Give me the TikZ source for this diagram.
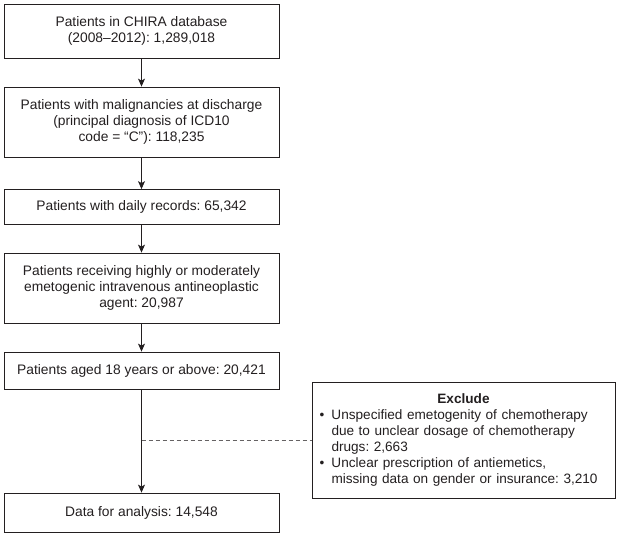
\documentclass[tikz,border=0pt]{standalone}
\usepackage{fontspec}
\setmainfont{Liberation Sans}
\usetikzlibrary{arrows.meta}
\definecolor{ink}{RGB}{35,31,32}
\frenchspacing
\begin{document}
\frenchspacing
\begin{tikzpicture}[x=1pt,y=-1pt,
  flowbox/.style={draw=ink, line width=0.8pt, minimum width=275pt, text=ink, align=center,
    font=\fontsize{13.8}{16}\selectfont\frenchspacing, inner sep=0pt},
  exbox/.style={draw=ink, line width=0.8pt, minimum width=303pt, minimum height=116pt, text=ink,
    text width=288pt, font=\fontsize{13.6}{16}\selectfont\frenchspacing, inner sep=0pt},
  arr/.style={draw=ink, line width=0.8pt, -{Stealth[length=8pt,width=7pt,inset=2pt]}},
  dashline/.style={draw=ink!70, line width=0.7pt, dash pattern=on 4pt off 3pt}]
\useasboundingbox (0,0) rectangle (618,536);
\node[flowbox, minimum height=54pt] (b1) at (141.5,31) {Patients in CHIRA database\\(2008–2012): 1,289,018};
\node[flowbox, minimum height=70pt] (b2) at (141.5,122) {Patients with malignancies at discharge\\(principal diagnosis of ICD10\\code = “C”): 118,235};
\node[flowbox, minimum height=35pt] (b3) at (141.5,207) {Patients with daily records: 65,342};
\node[flowbox, minimum height=70pt] (b4) at (141.5,288) {Patients receiving highly or moderately\\emetogenic intravenous antineoplastic\\agent: 20,987};
\node[flowbox, minimum height=37pt] (b5) at (141.5,370.5) {Patients aged 18 years or above: 20,421};
\node[flowbox, minimum height=39pt] (b6) at (141.5,512.5) {Data for analysis: 14,548};
\node[exbox] (ex) at (463.5,440) {\raggedright\parindent=0pt
{\centering\textbf{Exclude}\par}
\hangindent=12pt\hangafter=1\noindent\makebox[12pt][l]{•}Unspecified emetogenity of chemotherapy\newline due to unclear dosage of chemotherapy\newline drugs: 2,663\par
\hangindent=12pt\hangafter=1\noindent\makebox[12pt][l]{•}Unclear prescription of antiemetics,\newline missing data on gender or insurance: 3,210\par};
\coordinate (j) at (b5.south |- ex.west);
\draw[arr] (b1) -- (b2);
\draw[arr] (b2) -- (b3);
\draw[arr] (b3) -- (b4);
\draw[arr] (b4) -- (b5);
\draw[arr] (b5) -- (b6);
\draw[dashline] (j) -- (ex.west);
\end{tikzpicture}
\end{document}
